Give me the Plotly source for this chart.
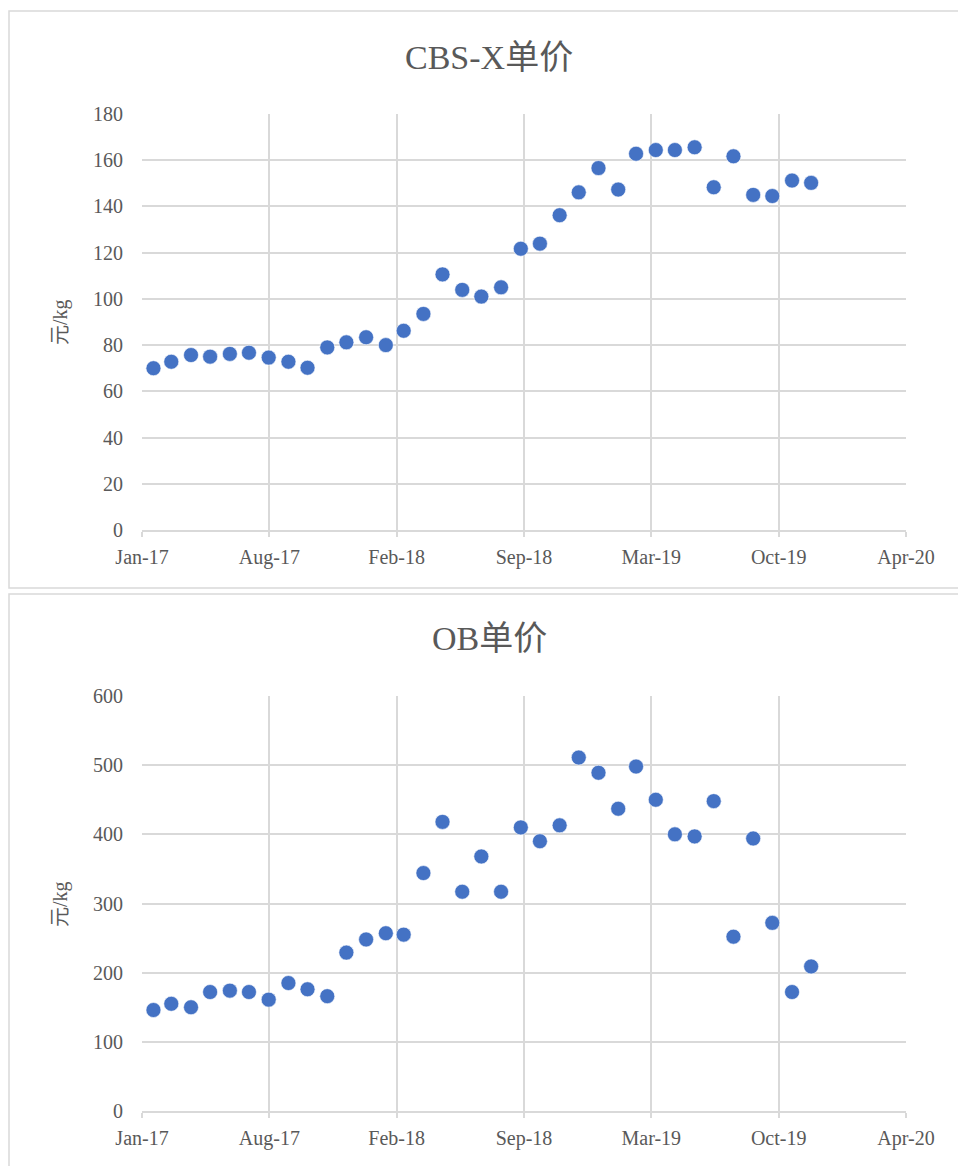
import pandas as pd
import plotly.graph_objects as go

# ---- data ----
dates = pd.date_range("2017-01-31", periods=35, freq="ME")
cbs_x_price = [70.0, 72.8, 75.7, 75.0, 76.2, 76.7, 74.6, 72.8, 70.2, 79.0, 81.2, 83.4,
               80.0, 86.2, 93.5, 110.6, 103.9, 101.0, 105.0, 121.7, 123.9, 136.2, 146.1,
               156.6, 147.3, 162.8, 164.4, 164.4, 165.6, 148.3, 161.7, 145.0, 144.5,
               151.2, 150.2]
ob_price = [146, 155, 150, 172, 174, 172, 161, 185, 176, 166, 229, 248, 257, 255, 344,
            418, 317, 368, 317, 410, 390, 413, 511, 489, 437, 498, 450, 400, 397, 448,
            252, 394, 272, 172, 209]
tick_labels = ["Jan-17", "Aug-17", "Feb-18", "Sep-18", "Mar-19", "Oct-19", "Apr-20"]
axis_start = pd.Timestamp("2017-01-13")
tick_step_days = 200
tick_dates = [axis_start + pd.Timedelta(days=tick_step_days * i) for i in range(len(tick_labels))]
titles = ["CBS-X单价", "OB单价"]
unit_label = "元/kg"

W, H = 958, 1166
FONT = "Liberation Serif, Noto Sans CJK SC, serif"
GRID = "#d9d9d9"
TXT = "#595959"
BLUE = "#4472C4"

def fy(py):
    return 1 - py / H

fig = go.Figure()
fig.add_trace(go.Scatter(x=dates, y=cbs_x_price, mode="markers", xaxis="x", yaxis="y",
                         marker=dict(color=BLUE, size=15, line=dict(width=0.6, color="white")),
                         showlegend=False))
fig.add_trace(go.Scatter(x=dates, y=ob_price, mode="markers", xaxis="x2", yaxis="y2",
                         marker=dict(color=BLUE, size=15, line=dict(width=0.6, color="white")),
                         showlegend=False))

xdom = [142 / W, 906 / W]
xcommon = dict(type="date", range=[tick_dates[0], tick_dates[-1]], tickmode="array",
               tickvals=tick_dates, ticktext=tick_labels, showgrid=True, gridcolor=GRID,
               gridwidth=1.5, showline=True, linecolor=GRID, linewidth=1.5,
               ticks="outside", ticklen=5, tickcolor=GRID, tickwidth=1.5,
               tickfont=dict(family=FONT, size=20, color=TXT), ticklabelstandoff=3,
               zeroline=False, fixedrange=True, automargin=False)
ycommon = dict(showgrid=True, gridcolor=GRID, gridwidth=1.5, showline=False,
               zeroline=False, ticks="", tickfont=dict(family=FONT, size=20, color=TXT),
               ticklabelstandoff=18, fixedrange=True, automargin=False)

fig.update_layout(
    width=W, height=H, margin=dict(l=0, r=0, t=0, b=0, autoexpand=False),
    paper_bgcolor="white", plot_bgcolor="white",
    xaxis=dict(domain=xdom, anchor="y", **xcommon),
    yaxis=dict(domain=[fy(530), fy(114)], anchor="x", range=[0, 180], dtick=20, **ycommon),
    xaxis2=dict(domain=xdom, anchor="y2", **xcommon),
    yaxis2=dict(domain=[fy(1111), fy(696)], anchor="x2", range=[0, 600], dtick=100, **ycommon),
    shapes=[
        dict(type="rect", xref="paper", yref="paper", x0=9 / W, x1=1.02, y0=fy(588), y1=fy(11),
             line=dict(color=GRID, width=1.5), fillcolor="rgba(0,0,0,0)", layer="below"),
        dict(type="rect", xref="paper", yref="paper", x0=9 / W, x1=1.02, y0=-0.02, y1=fy(594),
             line=dict(color=GRID, width=1.5), fillcolor="rgba(0,0,0,0)", layer="below"),
    ],
    annotations=[
        dict(text=titles[0], x=489 / W, y=fy(57), xref="paper", yref="paper", showarrow=False,
             font=dict(family=FONT, size=34, color=TXT), xanchor="center", yanchor="middle"),
        dict(text=titles[1], x=489 / W, y=fy(638), xref="paper", yref="paper", showarrow=False,
             font=dict(family=FONT, size=34, color=TXT), xanchor="center", yanchor="middle"),
        dict(text=unit_label, x=60 / W, y=fy(322), xref="paper", yref="paper", showarrow=False,
             textangle=-90, font=dict(family=FONT, size=20, color=TXT),
             xanchor="center", yanchor="middle"),
        dict(text=unit_label, x=60 / W, y=fy(904), xref="paper", yref="paper", showarrow=False,
             textangle=-90, font=dict(family=FONT, size=20, color=TXT),
             xanchor="center", yanchor="middle"),
    ],
)

fig.write_html("out.html", config={"displayModeBar": False},
               post_script="document.body.style.margin='0';")
